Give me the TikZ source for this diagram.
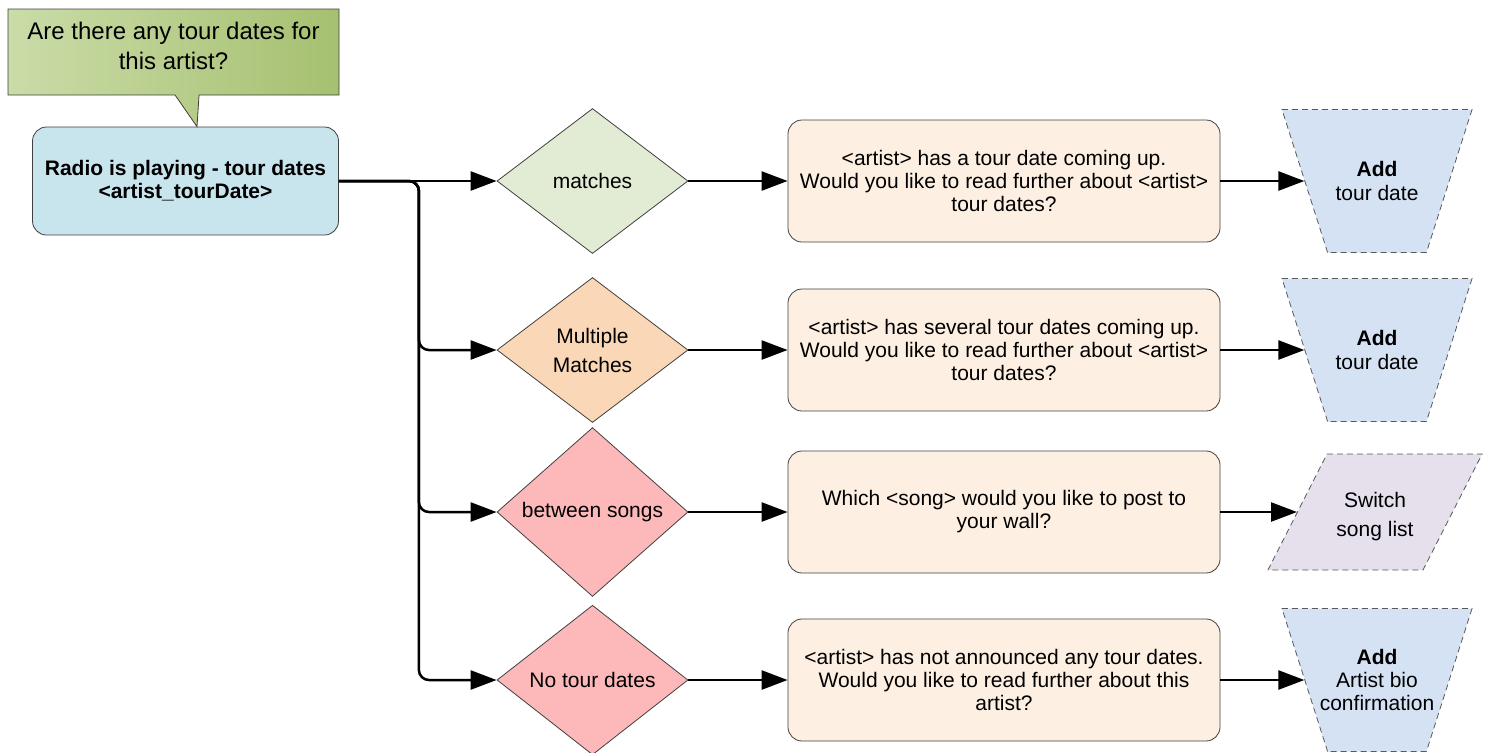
\documentclass[tikz,border=0pt]{standalone}
\usepackage{fontspec}
\setmainfont{Liberation Sans}
\usetikzlibrary{shapes,arrows.meta,positioning}

\definecolor{noteleft}{RGB}{202,220,168}
\definecolor{noteright}{RGB}{166,192,112}
\definecolor{radiofill}{RGB}{200,228,237}
\definecolor{matchfill}{RGB}{226,235,212}
\definecolor{multifill}{RGB}{250,215,182}
\definecolor{nonefill}{RGB}{253,185,185}
\definecolor{msgfill}{RGB}{253,239,226}
\definecolor{addfill}{RGB}{213,226,243}
\definecolor{switchfill}{RGB}{229,224,236}

\begin{document}
\begin{tikzpicture}[
    font=\fontsize{10.5}{11.5}\selectfont,
    radio/.style={draw=black!75, rounded corners=7pt, fill=radiofill, minimum width=153pt, minimum height=54pt, align=center, font=\fontsize{10.5}{11.5}\selectfont\bfseries},
    note/.style={rectangle callout, draw=black!75, left color=noteleft, right color=noteright, minimum width=165.5pt, minimum height=43pt, callout pointer width=12pt, align=center, text depth=6.5pt, font=\fontsize{12}{15}\selectfont},
    decision/.style={diamond, draw=black!75, minimum width=95.5pt, minimum height=72.5pt, inner sep=1pt, align=center},
    message/.style={draw=black!75, rounded corners=7pt, fill=msgfill, minimum width=216pt, minimum height=61pt, align=center},
    addbox/.style={trapezium, trapezium angle=107.7, draw=black!65, dash pattern=on 3pt off 2pt, fill=addfill, inner xsep=24.7pt, inner ysep=35.75pt},
    switchbox/.style={trapezium, trapezium left angle=63, trapezium right angle=117, draw=black!65, dash pattern=on 3pt off 2pt, fill=switchfill, inner xsep=24pt, inner ysep=29pt},
    inside/.style={align=center},
    arrow/.style={-{Triangle[length=13pt,width=9.5pt]}, line width=1.25pt},
    on grid
]
\useasboundingbox (0,0) rectangle (744.5pt,-376pt);

% start + question
\node[radio] (radio) at (92.75pt,-90.5pt) {Radio is playing - tour dates\\<artist\_tourDate>};
\node[note, above left=64.5pt and 6pt of radio, callout absolute pointer={([xshift=5.75pt]radio.north)}] (question) {Are there any tour dates for\\this artist?};

% decisions
\node[decision, fill=matchfill, right=203.5pt of radio] (matches) {matches};
\node[decision, fill=multifill, below=84.5pt of matches] (multiple) {Multiple\\[3pt]Matches};
\node[decision, fill=nonefill, below=81pt of multiple] (between) {between songs};
\node[decision, fill=nonefill, below=84pt of between] (notour) {No tour dates};

% messages
\node[message, right=205.75pt of matches] (msgmatch) {<artist> has a tour date coming up.\\Would you like to read further about <artist>\\tour dates?};
\node[message, right=205.75pt of multiple] (msgmulti) {<artist> has several tour dates coming up.\\Would you like to read further about <artist>\\tour dates?};
\node[message, right=205.75pt of between] (msgsong) {Which <song> would you like to post to\\your wall?};
\node[message, right=205.75pt of notour] (msgnone) {<artist> has not announced any tour dates.\\Would you like to read further about this\\artist?};

% actions (dashed)
\node[addbox, right=186.5pt of msgmatch] (addtour1) {};
\node[addbox, right=186.5pt of msgmulti] (addtour2) {};
\node[switchbox, right=185.5pt of msgsong] (switchsongs) {};
\node[addbox, right=186.5pt of msgnone] (addbio) {};
\node[inside] (addtour1text) at (addtour1) {\textbf{Add}\\[0.5pt]tour date};
\node[inside] (addtour2text) at (addtour2) {\textbf{Add}\\[0.5pt]tour date};
\node[inside, yshift=-2.5pt] (switchtext) at (switchsongs) {Switch\\[3pt]song list};
\node[inside] (addbiotext) at (addbio) {\textbf{Add}\\Artist bio\\confirmation};

% arrows
\coordinate[right=40pt of radio.east] (split);
\draw[arrow] (radio.east) -- (matches.west);
\foreach \d in {multiple, between, notour}
    \draw[arrow, rounded corners=5pt] (radio.east) -- (split) |- (\d.west);
\foreach \d/\m/\a in {matches/msgmatch/addtour1, multiple/msgmulti/addtour2, between/msgsong/switchsongs, notour/msgnone/addbio} {
    \draw[arrow] (\d) -- (\m);
    \draw[arrow] (\m) -- (\a);
}

\end{tikzpicture}
\end{document}
